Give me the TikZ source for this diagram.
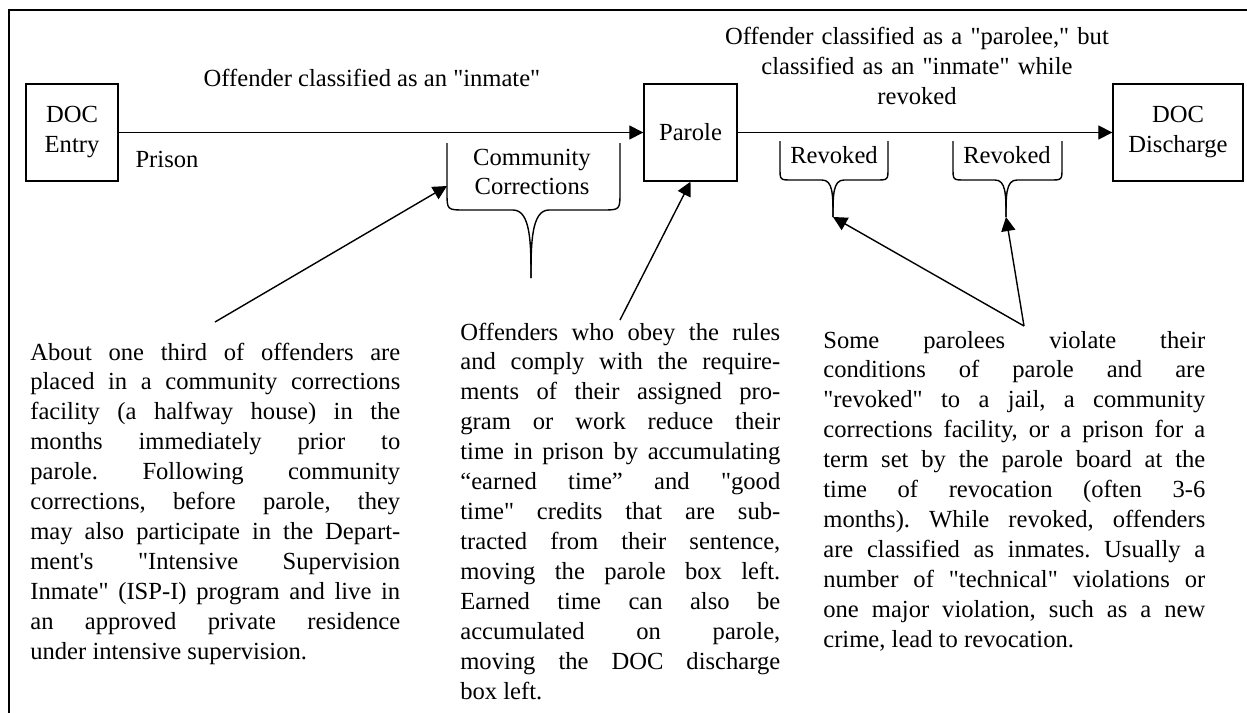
\documentclass[tikz,border=0pt]{standalone}
\usepackage{fontspec}
\setmainfont{Liberation Serif}[Ligatures=TeXOff]
\usepackage{tikz}
\usetikzlibrary{arrows.meta}
\definecolor{ppline}{RGB}{0,0,0}
\newlength{\ppnotewidth}
\newcommand{\ppsize}{\fontsize{14pt}{17.07pt}\selectfont}
\newcommand{\jline}[1]{\hbox to \ppnotewidth{#1}}
\newcommand{\lline}[1]{\hbox{#1}}
\tikzset{
  ppBox/.style={draw=ppline, line width=0.8pt, align=center, inner sep=0pt,
                minimum height=1.94cm, font=\ppsize},
  ppLabel/.style={align=center, inner sep=0pt, anchor=base, font=\ppsize},
  ppNote/.style={inner sep=0pt, anchor=base west, font=\ppsize, text width=#1,
                 execute at begin node={\setlength{\ppnotewidth}{#1}\frenchspacing
                   \spaceskip=0.25em plus 1em minus 0.05em}},
  ppArrow/.style={-{Triangle[length=8pt, width=8pt]}, line width=0.8pt, draw=ppline},
  ppBrace/.style={line width=0.8pt, draw=ppline},
  ppFrame/.style={line width=1.2pt, draw=ppline}
}

\begin{document}
\begin{tikzpicture}[x=0.02cm,y=-0.02cm]
  \useasboundingbox (0,0) rectangle (1247,713);
  \draw[ppFrame] (9,713) -- (9,10) -- (1247,10);

  % stages
  \node[ppBox, minimum width=1.84cm] (docEntry) at (72,132.5) {DOC\\Entry};
  \node[ppBox, minimum width=1.86cm] (parole) at (690.5,132.5) {Parole};
  \node[ppBox, minimum width=2.6cm] (docDischarge) at (1178,132.5) {DOC\\Discharge};
  \draw[ppArrow] (docEntry.east) -- (parole.west);
  \draw[ppArrow] (parole.east) -- (docDischarge.west);

  % labels on the time line
  \node[ppLabel] (inmateLbl) at (372,87) {Offender classified as an "inmate"};
  \node[ppLabel] (prisonLbl) at (167,167) {Prison};
  \node[ppLabel, text width=9.5cm] (paroleeLbl) at (917,45)
    {Offender classified as a "parolee," but\\classified as an "inmate" while\\revoked};
  \node[ppLabel, text width=3cm] (ccLbl) at (532,165) {Community\\Corrections};
  \node[ppLabel] (revOneLbl) at (834,163) {Revoked};
  \node[ppLabel] (revTwoLbl) at (1007,163) {Revoked};

  % braces
  \coordinate (ccTip) at (531,278);
  \coordinate (ccSide) at (447,186);
  \coordinate (revOneTip) at (833,217);
  \coordinate (revTwoTip) at (1006,217);
  \draw[ppBrace] (447,143) -- (447,192) .. controls (447,210) .. (465,210) -- (513,210)
    .. controls (531,210) and (531,245) .. (ccTip);
  \draw[ppBrace] (620,143) -- (620,192) .. controls (620,210) .. (602,210) -- (549,210)
    .. controls (531,210) and (531,245) .. (ccTip);
  \draw[ppBrace] (780,141) -- (780,168) .. controls (780,180) .. (792,180) -- (822,180)
    .. controls (833,180) and (833,195) .. (revOneTip);
  \draw[ppBrace] (888,141) -- (888,168) .. controls (888,180) .. (876,180) -- (844,180)
    .. controls (833,180) and (833,195) .. (revOneTip);
  \draw[ppBrace] (953,141) -- (953,168) .. controls (953,180) .. (965,180) -- (995,180)
    .. controls (1006,180) and (1006,195) .. (revTwoTip);
  \draw[ppBrace] (1062,141) -- (1062,168) .. controls (1062,180) .. (1050,180) -- (1017,180)
    .. controls (1006,180) and (1006,195) .. (revTwoTip);

  % notes
  \node[ppNote=7.4cm] (noteCC) at (30,360) {%
    \jline{About one third of offenders are}
    \jline{placed in a community corrections}
    \jline{facility (a halfway house) in the}
    \jline{months immediately prior to}
    \jline{parole. Following community}
    \jline{corrections, before parole, they}
    \jline{may also participate in the Depart-}
    \jline{ment's "Intensive Supervision}
    \jline{Inmate" (ISP-I) program and live in}
    \jline{an approved private residence}
    \lline{under intensive supervision.}};
  \node[ppNote=6.4cm] (noteParole) at (460,340) {%
    \jline{Offenders who obey the rules}
    \jline{and comply with the require-}
    \jline{ments of their assigned pro-}
    \jline{gram or work reduce their}
    \jline{time in prison by accumulating}
    \jline{“earned time” and "good}
    \jline{time" credits that are sub-}
    \jline{tracted from their sentence,}
    \jline{moving the parole box left.}
    \jline{Earned time can also be}
    \jline{accumulated on parole,}
    \jline{moving the DOC discharge}
    \lline{box left.}};
  \node[ppNote=7.64cm] (noteRevoked) at (823,348) {%
    \jline{Some parolees violate their}
    \jline{conditions of parole and are}
    \jline{"revoked" to a jail, a community}
    \jline{corrections facility, or a prison for a}
    \jline{term set by the parole board at the}
    \jline{time of revocation (often 3-6}
    \jline{months). While revoked, offenders}
    \jline{are classified as inmates. Usually a}
    \jline{number of "technical" violations or}
    \jline{one major violation, such as a new}
    \lline{crime, lead to revocation.}};

  % pointers
  \coordinate (noteCCTop) at (215,322);
  \coordinate (noteParoleTop) at (620,320);
  \coordinate (noteRevokedTop) at (1024,326);
  \draw[ppArrow] (noteCCTop) -- (ccSide);
  \draw[ppArrow] (noteParoleTop) -- (parole.south);
  \draw[ppArrow] (noteRevokedTop) -- (revOneTip);
  \draw[ppArrow] (noteRevokedTop) -- (revTwoTip);
\end{tikzpicture}
\end{document}
